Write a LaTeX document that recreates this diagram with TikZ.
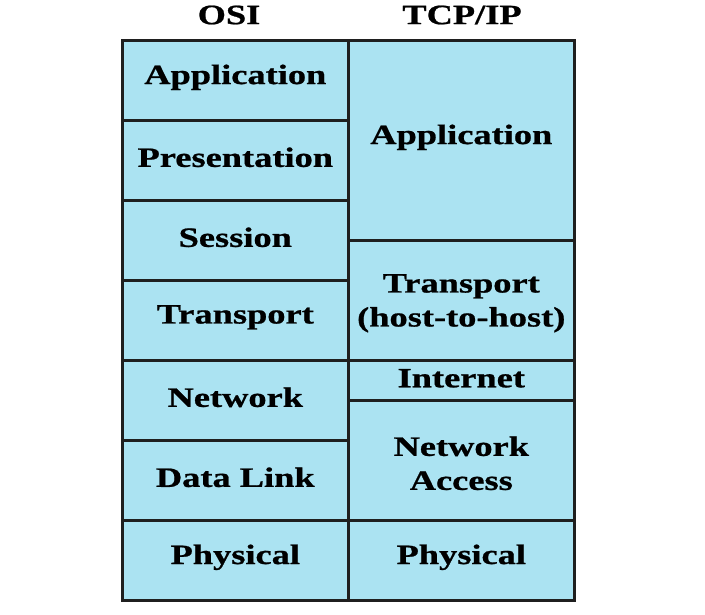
\documentclass[tikz,border=0pt]{standalone}
\usepackage{fontspec}
\newfontfamily\lab{Liberation Serif}[FakeStretch=1.3, BoldFeatures={FakeBold=0.8}]
\definecolor{cellblue}{HTML}{ABE3F2}
\tikzset{
  cell/.style={draw=black!88, line width=2.6pt, fill=cellblue, anchor=north west, inner sep=0pt},
  lbl/.style={inner sep=0pt, align=center, text=black, font=\lab\bfseries\fontsize{28}{34}\selectfont},
  head/.style={lbl}
}
\newcommand{\cellnode}[7]{% name, x1, y1, x2, y2, text, yshift
  \node[cell, minimum width=#4pt-#2pt, minimum height=#5pt-#3pt] (#1) at (#2pt,-#3pt) {};
  \node[lbl] (#1t) at ([yshift=#7pt]#1.center) {#6};
}
\begin{document}
\begin{tikzpicture}
\useasboundingbox (0,0) rectangle (705pt,-614pt);
\node[head] (osi) at (229pt,-15pt) {OSI};
\node[head] (tcp) at (462pt,-15pt) {TCP/IP};
% OSI column
\cellnode{o1}{121}{39}{347}{119}{Application}{3}
\cellnode{o2}{121}{119}{347}{199}{Presentation}{3}
\cellnode{o3}{121}{199}{347}{279}{Session}{3}
\cellnode{o4}{121}{279}{347}{359}{Transport}{3}
\cellnode{o5}{121}{359}{347}{439}{Network}{3}
\cellnode{o6}{121}{439}{347}{519}{Data Link}{3}
\cellnode{o7}{121}{519}{347}{599}{Physical}{3}
% TCP/IP column
\cellnode{t1}{347}{39}{573}{239}{Application}{3}
\cellnode{t2}{347}{239}{573}{359}{Transport\\(host-to-host)}{-3}
\cellnode{t3}{347}{359}{573}{399}{Internet}{2}
\cellnode{t4}{347}{399}{573}{519}{Network\\Access}{-3}
\cellnode{t5}{347}{519}{573}{599}{Physical}{3}
\end{tikzpicture}
\end{document}
